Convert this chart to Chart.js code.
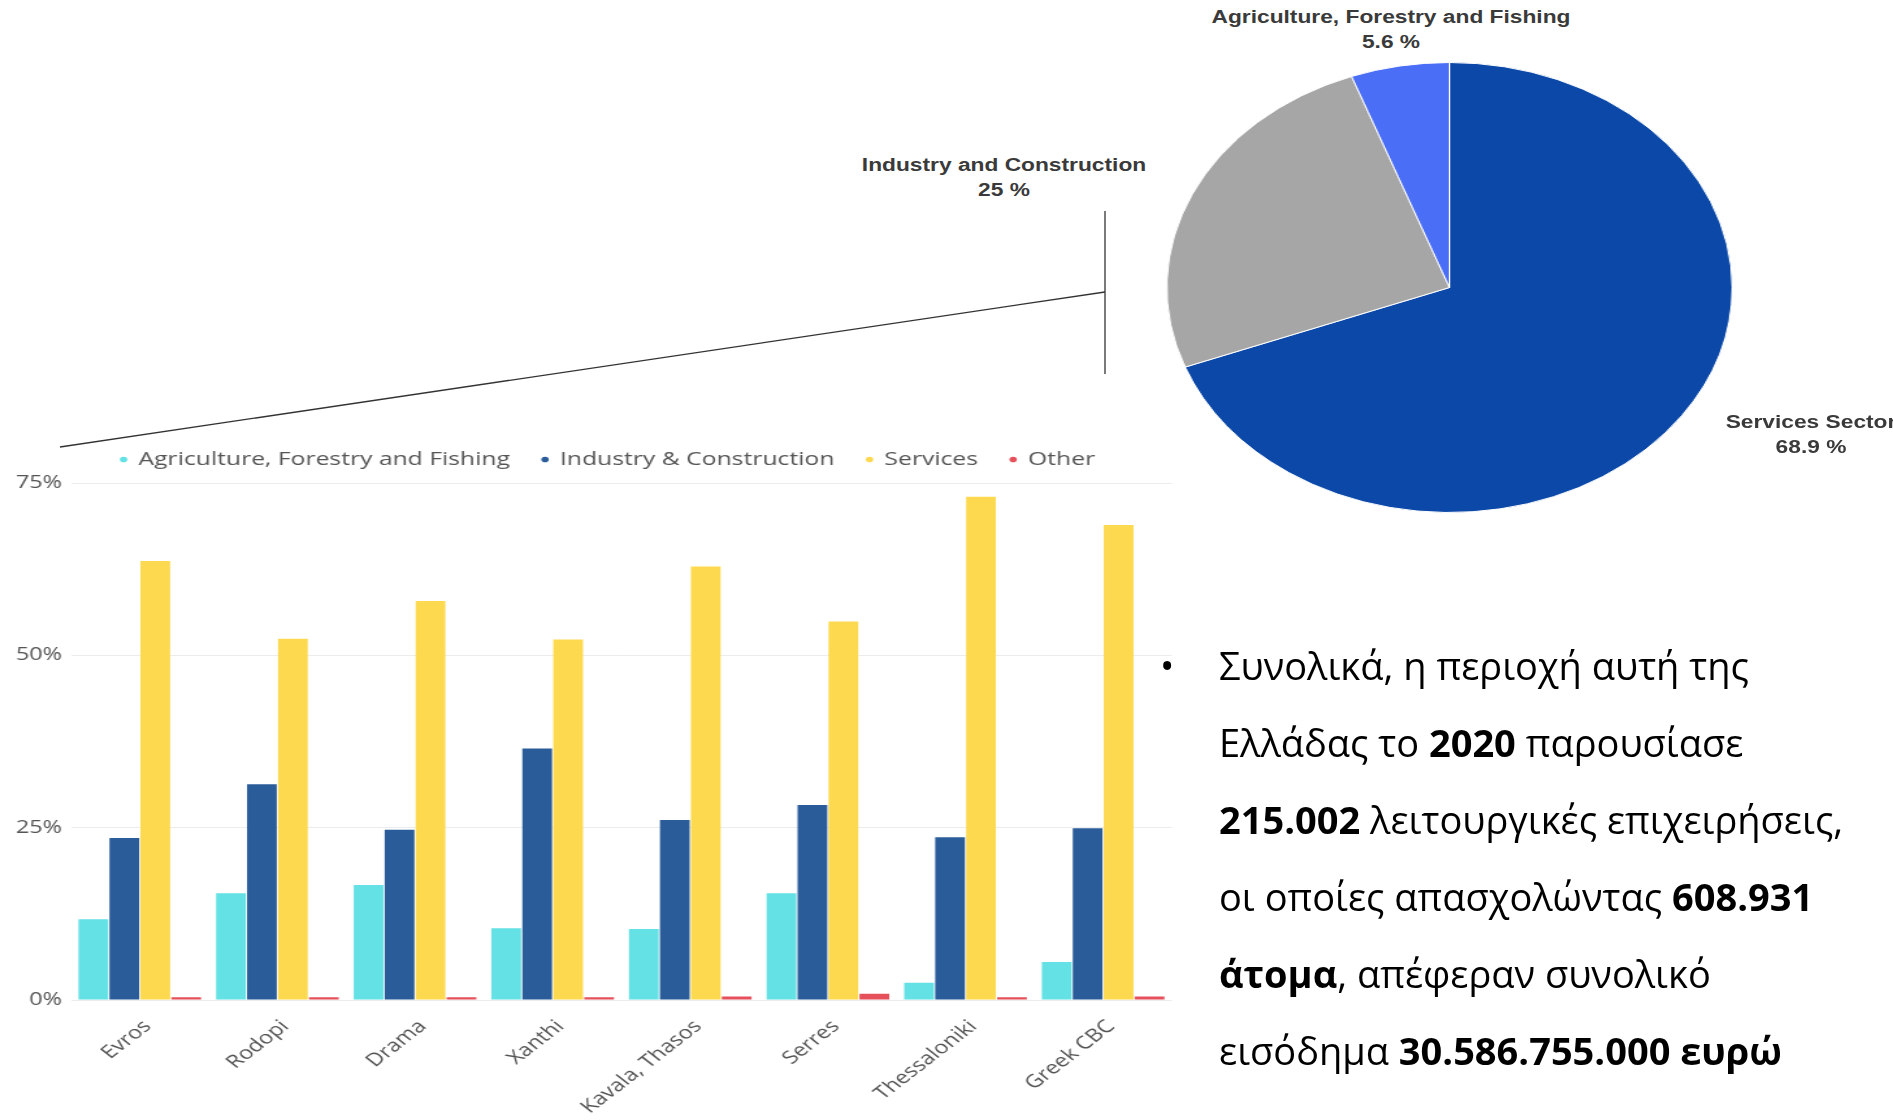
<!DOCTYPE html>
<html>
<head>
<meta charset="utf-8">
<script src="https://cdn.jsdelivr.net/npm/chart.js@4.4.1/dist/chart.umd.min.js"></script>
<style>
  html, body { margin: 0; padding: 0; background: #fff; }
  #page { position: relative; width: 1893px; height: 1120px; overflow: hidden; background: #fff; }
  /* the source picture is stretched sideways, so the bar chart is drawn narrow and widened */
  #bar-wrap { position: absolute; left: 0; top: 429px; width: 908px; height: 691px; transform: scaleX(1.3); transform-origin: left top; }
  #pie-wrap { position: absolute; left: 1224px; top: 62px; width: 451px; height: 451px; transform: scaleX(1.256); transform-origin: center center; }
  .pie-label { position: absolute; transform: translateX(-50%) scaleX(1.3); text-align: center; white-space: nowrap;
    font-family: 'Liberation Sans', Arial, sans-serif; font-weight: bold; font-size: 17.5px; line-height: 25px; color: #3a3a3a; }
  #notes { position: absolute; left: 1160px; top: 627px; font-family: 'Open Sans', sans-serif; font-size: 38px; line-height: 77px; color: #000; white-space: nowrap; }
  #notes .bullet { position: absolute; left: 0; top: 0; }
  #notes .lines { margin-left: 59px; }
  #notes b { font-weight: bold; }
  #links { position: absolute; left: 0; top: 0; }
</style>
</head>
<body>
<div id="page">
  <svg id="links" width="1893" height="1120">
    <line x1="1105" y1="211" x2="1105" y2="374" stroke="#333" stroke-width="1.3" />
    <line x1="1105" y1="292" x2="60" y2="447" stroke="#333" stroke-width="1.3" />
  </svg>

  <div id="bar-wrap"><canvas id="sector-bars"></canvas></div>
  <div id="pie-wrap"><canvas id="sector-pie"></canvas></div>

  <div class="pie-label" id="pie-lbl-0" style="left:1811px; top:410px;"></div>
  <div class="pie-label" id="pie-lbl-1" style="left:1004px; top:153px;"></div>
  <div class="pie-label" id="pie-lbl-2" style="left:1391px; top:5px;"></div>

  <div id="notes">
    <span class="bullet">•</span>
    <div class="lines">
      <div>Συνολικά, η περιοχή αυτή της</div>
      <div>Ελλάδας το <b>2020</b> παρουσίασε</div>
      <div><b>215.002</b> λειτουργικές επιχειρήσεις,</div>
      <div>οι οποίες απασχολώντας <b>608.931</b></div>
      <div><b>άτομα</b>, απέφεραν συνολικό</div>
      <div>εισόδημα <b>30.586.755.000 ευρώ</b></div>
    </div>
  </div>
</div>

<script>
// ─── Data ────────────────────────────────────────
const regions = ['Evros', 'Rodopi', 'Drama', 'Xanthi', 'Kavala, Thasos', 'Serres', 'Thessaloniki', 'Greek CBC'];
const agriculture = [11.7, 15.5, 16.7, 10.4, 10.3, 15.5, 2.5, 5.5];
const industry = [23.5, 31.3, 24.7, 36.5, 26.1, 28.3, 23.6, 24.9];
const services = [63.7, 52.4, 57.9, 52.3, 62.9, 54.9, 73.0, 68.9];
const other = [0.4, 0.4, 0.4, 0.4, 0.5, 0.9, 0.4, 0.5];
const yTicks = [0, 25, 50, 75];

const pieLabels = ['Services Sector', 'Industry and Construction', 'Agriculture, Forestry and Fishing'];
const pieValues = [68.9, 25, 5.6];

const FONT = "'Open Sans', sans-serif";

// legend sits a little right of the canvas centre in the source
const legendNudge = {
  id: 'legendNudge',
  afterLayout(chart) {
    const lg = chart.legend;
    if (!lg) return;
    lg.left += 17; lg.right += 17;
    lg.top -= 4; lg.bottom -= 4;
  },
};

// ─── Bar chart ───────────────────────────────────
function renderBars() {
  const ctx = document.getElementById('sector-bars');
  const common = { categoryPercentage: 0.9, barPercentage: 0.96, borderWidth: 0 };

  new Chart(ctx, {
    type: 'bar',
    data: {
      labels: regions,
      datasets: [
        { label: 'Agriculture, Forestry and Fishing', data: agriculture, backgroundColor: '#63e1e4', ...common },
        { label: 'Industry & Construction', data: industry, backgroundColor: '#2a5c9a', ...common },
        { label: 'Services', data: services, backgroundColor: '#fdd94f', ...common },
        { label: 'Other', data: other, backgroundColor: '#e5505b', ...common },
      ],
    },
    options: {
      responsive: true,
      maintainAspectRatio: false,
      animation: false,
      layout: { padding: { left: 0, right: 6.5, top: 0, bottom: 0 } },
      plugins: {
        legend: {
          position: 'top',
          labels: {
            usePointStyle: true,
            pointStyle: 'circle',
            boxWidth: 4,
            boxHeight: 4,
            padding: 25,
            color: '#555',
            font: { size: 19, family: FONT },
          },
        },
        tooltip: { enabled: false },
      },
      scales: {
        x: {
          grid: { display: false },
          border: { display: false },
          ticks: { minRotation: 45, maxRotation: 45, labelOffset: 6, padding: 8, color: '#555', font: { size: 18, family: FONT } },
          afterFit: (s) => { s.height = 120; },
        },
        y: {
          min: 0,
          max: 75,
          grid: { color: '#ececec', drawTicks: false },
          border: { display: false },
          ticks: {
            stepSize: 25,
            padding: 7,
            color: '#555',
            font: { size: 18, family: FONT },
            callback: (v) => yTicks.includes(v) ? v + '%' : '',
          },
          afterFit: (s) => { s.width = 54.6; },
        },
      },
    },
    plugins: [legendNudge],
  });
}

// ─── Pie chart ───────────────────────────────────
function renderPie() {
  const ctx = document.getElementById('sector-pie');
  new Chart(ctx, {
    type: 'pie',
    data: {
      labels: pieLabels,
      datasets: [{
        data: pieValues,
        backgroundColor: ['#0b48a8', '#a6a6a6', '#4b6ef6'],
        borderColor: '#ffffff',
        borderWidth: 1,
      }],
    },
    options: {
      responsive: true,
      maintainAspectRatio: false,
      animation: false,
      plugins: { legend: { display: false }, tooltip: { enabled: false } },
    },
  });

  pieLabels.forEach((name, i) => {
    const el = document.getElementById('pie-lbl-' + i);
    el.innerHTML = name + '<br>' + pieValues[i] + ' %';
  });
}

renderBars();
renderPie();
</script>
</body>
</html>
